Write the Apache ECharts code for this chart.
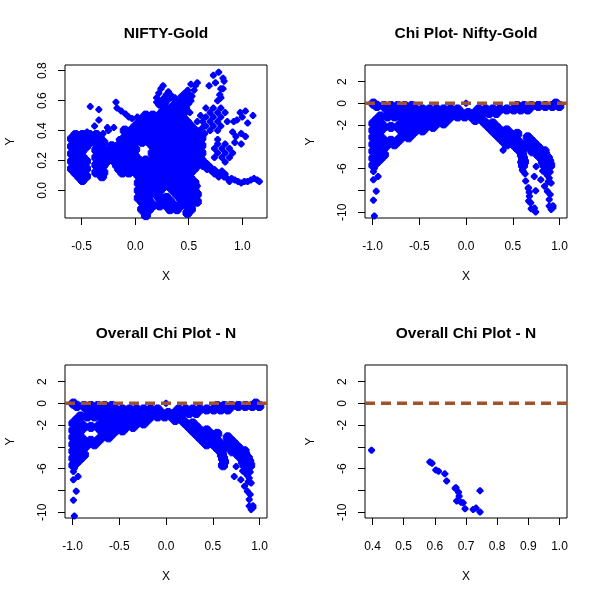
<!DOCTYPE html>
<html>
<head>
<meta charset="utf-8">
<script src="https://cdn.jsdelivr.net/npm/echarts@6/dist/echarts.min.js"></script>
<style>html,body{margin:0;padding:0;background:#fff;}#c{width:600px;height:600px;}</style>
</head>
<body>
<div id="c"></div>
<script>
// ---------------- DATA ----------------
const panelTitles = ['NIFTY-Gold', 'Chi Plot- Nifty-Gold', 'Overall Chi Plot - N', 'Overall Chi Plot - N'];
const p1XTicks = [-0.5, 0, 0.5, 1.0];
const p1YTicks = [0, 0.2, 0.4, 0.6, 0.8];
const chiXTicks = [-1, -0.5, 0, 0.5, 1];
const subXTicks = [0.4, 0.5, 0.6, 0.7, 0.8, 0.9, 1.0];
const chiYTicks = [-10, -8, -6, -4, -2, 0, 2];
const chiYLabels = [-10, -6, -2, 0, 2];
const refLineY = [0, 0];

// NIFTY-Gold, dense parts read row by row: [Y, X1, X2, ...]
const niftyGoldRows = [
 // far-left blob and column
 [0.37, -0.558,-0.493,-0.428,-0.363],
 [0.345, -0.59,-0.525,-0.46,-0.395,-0.33],
 [0.32, -0.558,-0.493,-0.428,-0.363,-0.298],
 [0.295, -0.59,-0.525,-0.46,-0.33],
 [0.27, -0.558,-0.493,-0.363,-0.298],
 [0.245, -0.59,-0.525,-0.33,-0.27],
 [0.22, -0.558,-0.493,-0.363,-0.298],
 [0.195, -0.59,-0.525,-0.46,-0.33,-0.27],
 [0.17, -0.558,-0.493,-0.363,-0.298],
 [0.145, -0.59,-0.525,-0.46,-0.33],
 [0.12, -0.558,-0.493,-0.363,-0.298],
 [0.095, -0.525,-0.46,-0.31],
 [0.07, -0.493],
 // middle-left cluster
 [0.295, -0.22,-0.16],
 [0.27, -0.23,-0.19,-0.13],
 [0.245, -0.22,-0.16],
 [0.22, -0.21,-0.15],
 [0.195, -0.19,-0.13],
 [0.17, -0.17,-0.11],
 [0.145, -0.15,-0.09],
 [0.12, -0.12,-0.06],
 // central blob
 [0.525, 0.26,0.325,0.39,0.455],
 [0.50, 0.098,0.163,0.228,0.293,0.358,0.423],
 [0.475, 0.065,0.13,0.195,0.26,0.325,0.39,0.455],
 [0.45, 0.033,0.098,0.163,0.228,0.293,0.358,0.423,0.488],
 [0.425, 0,0.065,0.13,0.195,0.26,0.325,0.39,0.455,0.52],
 [0.40, -0.098,-0.033,0.033,0.098,0.163,0.228,0.293,0.358,0.423,0.488,0.553],
 [0.375, -0.065,0,0.065,0.13,0.195,0.26,0.325,0.39,0.455,0.52,0.585],
 [0.35, -0.098,-0.033,0.033,0.098,0.163,0.228,0.293,0.358,0.423,0.488,0.553,0.618],
 [0.325, -0.065,0,0.065,0.13,0.195,0.26,0.325,0.39,0.455,0.52,0.585],
 [0.30, -0.098,-0.033,0.163,0.228,0.293,0.358,0.423,0.488,0.553,0.618],
 [0.275, -0.065,0,0.195,0.26,0.325,0.39,0.455,0.52,0.585],
 [0.25, -0.098,-0.033,0.163,0.228,0.293,0.358,0.423,0.488,0.553,0.618],
 [0.225, -0.065,0,0.195,0.26,0.325,0.39,0.455,0.52,0.585],
 [0.20, -0.098,-0.033,0.033,0.098,0.163,0.228,0.293,0.358,0.423,0.488,0.553,0.618],
 [0.175, -0.065,0,0.065,0.13,0.195,0.26,0.325,0.39,0.455,0.52,0.585,0.65],
 [0.15, -0.033,0.033,0.098,0.163,0.228,0.293,0.358,0.423,0.488,0.553],
 [0.125, 0,0.065,0.13,0.195,0.26,0.325,0.39,0.455,0.52],
 [0.10, 0.033,0.098,0.163,0.228,0.293,0.358,0.423,0.488],
 [0.075, 0.065,0.13,0.195,0.26,0.325,0.39,0.455,0.52],
 [0.05, 0.033,0.098,0.163,0.228,0.293,0.358,0.423,0.488,0.553],
 [0.025, 0.065,0.13,0.195,0.26,0.325,0.39,0.455,0.52],
 [0.00, 0.033,0.098,0.163,0.228,0.358,0.423,0.488,0.553],
 [-0.025, 0.065,0.13,0.195,0.39,0.455,0.52,0.575],
 [-0.05, 0.033,0.098,0.228,0.293,0.423,0.488,0.553],
 [-0.075, 0.065,0.13,0.26,0.325,0.455,0.52,0.575],
 [-0.10, 0.098,0.163,0.228,0.293,0.358,0.423,0.488],
 [-0.125, 0.065,0.13,0.325,0.39,0.52],
 [-0.15, 0.098,0.488],
 [-0.165, 0.10]
];

// NIFTY-Gold, sparse parts (X, Y)
const niftyGoldPoints = [
 [-0.42,0.56],[-0.34,0.54],[-0.34,0.47],[-0.38,0.43],[-0.45,0.39],[-0.49,0.38],[-0.30,0.38],
 [-0.25,0.40],[-0.20,0.42],[-0.26,0.42],[-0.15,0.34],[-0.31,0.10],
 [-0.18,0.59],[-0.17,0.55],[-0.13,0.53],[-0.09,0.51],[-0.06,0.49],[-0.03,0.48],[0.02,0.49],[0.08,0.49],[0.14,0.50],[0.19,0.49],
 [0.56,0.00],[0.58,0.03],
 [0.26,0.70],[0.31,0.66],[0.22,0.65],[0.20,0.62],[0.23,0.60],[0.27,0.62],[0.30,0.60],[0.34,0.62],[0.36,0.58],
 [0.33,0.56],[0.38,0.55],[0.40,0.60],[0.43,0.63],[0.46,0.65],[0.48,0.62],[0.50,0.58],[0.45,0.57],[0.42,0.55],
 [0.30,0.55],[0.25,0.56],[0.52,0.71],[0.58,0.72],[0.55,0.67],[0.53,0.63],[0.47,0.60],[0.22,0.57],
 [0.24,0.68],[0.29,0.64],[0.33,0.64],[0.37,0.62],[0.38,0.59],[0.41,0.57],[0.44,0.60],[0.49,0.67],[0.51,0.64],
 [0.52,0.60],[0.56,0.70],[0.20,0.59],[0.25,0.59],[0.28,0.58],[0.35,0.55],[0.48,0.55],[0.51,0.52],
 [0.69,0.70],[0.73,0.77],[0.78,0.79],[0.82,0.75],[0.83,0.73],[0.80,0.68],[0.79,0.64],[0.77,0.60],[0.80,0.62],[0.82,0.68],[0.75,0.72],
 [0.66,0.55],[0.73,0.55],[0.80,0.55],[0.70,0.52],[0.77,0.52],[0.84,0.52],[0.66,0.49],[0.73,0.49],[0.80,0.49],
 [0.63,0.46],[0.70,0.46],[0.77,0.46],[0.86,0.46],[0.66,0.43],[0.73,0.43],[0.80,0.43],[0.70,0.40],[0.77,0.40],
 [0.58,0.46],[0.61,0.50],[0.63,0.42],[0.60,0.40],[0.65,0.38],
 [0.98,0.52],[1.03,0.53],[1.10,0.50],[1.05,0.45],[0.95,0.47],[0.92,0.46],[0.91,0.39],[0.94,0.36],[0.99,0.38],
 [1.03,0.36],[0.99,0.31],[0.93,0.32],[1.00,0.49],
 [0.77,0.34],[0.77,0.31],[0.84,0.31],[0.74,0.28],[0.81,0.28],[0.88,0.28],[0.77,0.25],[0.84,0.25],[0.91,0.25],
 [0.74,0.22],[0.81,0.22],[0.88,0.22],[0.84,0.19],
 [0.60,0.21],[0.64,0.19],[0.67,0.18],[0.70,0.16],[0.63,0.16],[0.67,0.14],[0.71,0.13],[0.74,0.14],[0.77,0.12],
 [0.74,0.11],[0.80,0.11],[0.78,0.09],[0.83,0.09],[0.86,0.08],[0.88,0.06],[0.90,0.08],[0.93,0.07],[0.96,0.06],
 [0.99,0.05],[1.02,0.06],[1.05,0.06],[1.08,0.07],[1.11,0.08],[1.14,0.07],[1.16,0.06],[0.84,0.11],[0.81,0.13]
];

// Overall chi plot, dense parts read row by row: [Y(chi), X1(lambda), X2, ...]
const chiOverallRows = [
 [-0.02, -0.99,0.96],
 [-0.24, -0.953,-0.878,-0.803,-0.728,-0.653,-0.578, 0.548,0.623,0.698,0.773,0.848,0.923,0.998],
 [-0.56, -0.84,-0.765,-0.69,-0.615,-0.54,-0.465,-0.39,-0.315,-0.24,-0.165,-0.09, 0.135,0.21,0.285,0.36,0.435,0.51,0.585,0.66],
 [-0.88, -0.803,-0.728,-0.653,-0.578,-0.503,-0.428,-0.353,-0.278,-0.203,-0.128,-0.053,0.023,0.098,0.173,0.248,0.323],
 [-1.20, -0.915,-0.84,-0.765,-0.69,-0.615,-0.54,-0.465,-0.39,-0.315,-0.24,-0.165,-0.09,-0.015,0.06],
 [-1.52, -0.953,-0.653,-0.578,-0.503,-0.428,-0.353,-0.278,-0.203, 0.098,0.173],
 [-1.84, -0.99,-0.915,-0.69,-0.615,-0.54,-0.465,-0.39,-0.315,-0.24, 0.21,0.285],
 [-2.16, -0.953,-0.878,-0.803,-0.728,-0.653,-0.578,-0.503,-0.428,-0.353, 0.248,0.323],
 [-2.48, -0.99,-0.915,-0.69,-0.615,-0.54,-0.465, 0.285,0.36,0.435],
 [-2.80, -0.953,-0.653,-0.578, 0.323,0.398,0.473,0.548],
 [-3.12, -0.99,-0.915,-0.69,-0.615, 0.36,0.435,0.51,0.66],
 [-3.44, -0.953,-0.878,-0.803,-0.728, 0.398,0.473,0.548,0.698],
 [-3.76, -0.99,-0.915,-0.84,-0.765, 0.435,0.51,0.585,0.66,0.735],
 [-4.08, -0.953,-0.878, 0.548,0.623,0.698,0.773],
 [-4.40, -0.99,-0.915, 0.585,0.71,0.785,0.84],
 [-4.72, -0.953,-0.878, 0.598,0.773,0.848],
 [-5.04, -0.99,-0.915, 0.61,0.81,0.875],
 [-5.36, -0.953, 0.62,0.823,0.89],
 [-5.68, -0.99, 0.61,0.84,0.90]
];

// Overall chi plot, sparse parts (X, Y)
const chiOverallPoints = [
 [0.00,0.00],
 [-0.98,-5.95],[-0.99,-6.26],[-0.94,-6.71],[-0.99,-7.01],[-0.96,-8.07],[-0.99,-8.88],[-0.98,-10.34],
 [0.75,-5.80],[0.86,-6.00],[0.90,-6.30],[0.82,-6.20],[0.85,-6.40],[0.87,-6.60],[0.73,-6.71],[0.89,-6.86],
 [0.80,-7.00],[0.88,-7.20],[0.91,-7.31],[0.84,-7.60],[0.87,-8.07],[0.90,-8.37],[0.89,-8.82],[0.93,-9.40],
 [0.89,-9.43],[0.93,-9.58],[0.91,-9.73]
];

// Subset chi plot points (X, Y)
const chiSubset = [
 [0.397,-4.30],[0.584,-5.38],[0.591,-5.50],[0.603,-6.11],[0.612,-6.23],[0.632,-6.47],[0.638,-7.13],
 [0.665,-7.80],[0.676,-8.16],[0.678,-8.52],[0.670,-8.95],[0.684,-9.07],[0.691,-9.13],[0.697,-9.67],
 [0.723,-9.74],[0.732,-9.61],[0.745,-8.01],[0.745,-9.97],[0.668,-7.75]
];

// reshape rows [y, x1, x2, ...] into [x, y] pairs
const fromRows = rows => rows.flatMap(r => r.slice(1).map(x => [x, r[0]]));
const niftyGoldDense = fromRows(niftyGoldRows);
const chiOverallDense = fromRows(chiOverallRows);

// ---------------- CHART ----------------
const FONT = 'Liberation Sans, Arial, sans-serif';
// filled diamond with blunt tips (like R pch 18); a fuller variant where marks pile up densely
const DIAMOND = 'path://M2.8,0 L4.2,0 L7,2.8 L7,4.2 L4.2,7 L2.8,7 L0,4.2 L0,2.8 Z';
const DIAMOND_DENSE = 'path://M2,0 L5,0 L7,2 L7,5 L5,7 L2,7 L0,5 L0,2 Z';
const grids = [
  {left: 65, top: 65, width: 202, height: 153},
  {left: 365, top: 65, width: 202, height: 153},
  {left: 65, top: 365, width: 202, height: 153},
  {left: 365, top: 365, width: 202, height: 153}
].map(g => Object.assign({show: true, borderColor: '#000', borderWidth: 1, backgroundColor: 'transparent', containLabel: false}, g));

const ranges = [
  {x: [-0.656, 1.231], y: [-0.184, 0.838], xt: p1XTicks, yt: p1YTicks, yl: p1YTicks, yf: v => v.toFixed(1)},
  {x: [-1.08, 1.08], y: [-10.52, 3.52], xt: chiXTicks, yt: chiYTicks, yl: chiYLabels, yf: v => String(v)},
  {x: [-1.08, 1.08], y: [-10.52, 3.52], xt: chiXTicks, yt: chiYTicks, yl: chiYLabels, yf: v => String(v)},
  {x: [0.376, 1.024], y: [-10.52, 3.52], xt: subXTicks, yt: chiYTicks, yl: chiYLabels, yf: v => String(v)}
];

const xAxes = ranges.map((r, i) => ({
  type: 'value', gridIndex: i, min: r.x[0], max: r.x[1], position: 'bottom',
  axisLine: {show: false, onZero: false},
  splitLine: {show: false},
  axisTick: {show: true, inside: false, length: 7, customValues: r.xt, lineStyle: {color: '#000', width: 1}},
  axisLabel: {show: true, customValues: r.xt, formatter: v => Number(v).toFixed(1), color: '#000', fontSize: 12, fontFamily: FONT, margin: 23}
}));
const yAxes = ranges.map((r, i) => ({
  type: 'value', gridIndex: i, min: r.y[0], max: r.y[1], position: 'left',
  axisLine: {show: false, onZero: false},
  splitLine: {show: false},
  axisTick: {show: true, inside: false, length: 7, customValues: r.yt, lineStyle: {color: '#000', width: 1}},
  axisLabel: {show: true, customValues: r.yl, formatter: v => r.yf(Number(v)), rotate: 90, color: '#000', fontSize: 12, fontFamily: FONT, margin: 16}
}));

// [panel index, data, dense?]
const layers = [
  [0, niftyGoldDense, true], [0, niftyGoldPoints, false],
  [1, chiOverallDense, true], [1, chiOverallPoints, false], [1, chiSubset, false],
  [2, chiOverallDense, true], [2, chiOverallPoints, false],
  [3, chiSubset, false]
];
const pointSeries = layers.map(([i, d, dense]) => ({
  type: 'scatter', xAxisIndex: i, yAxisIndex: i, data: d,
  symbol: dense ? DIAMOND_DENSE : DIAMOND, symbolSize: dense ? 9 : 7,
  large: false, progressive: 0,
  itemStyle: dense
    ? {color: '#0000FF', opacity: 1, borderColor: '#0000FF', borderWidth: 1}
    : {color: '#0000FF', opacity: 1, borderWidth: 0},
  z: 2, silent: true
}));
const lineSeries = [1, 2, 3].map(i => ({
  type: 'line', xAxisIndex: i, yAxisIndex: i,
  data: [[ranges[i].x[0], refLineY[0]], [ranges[i].x[1], refLineY[1]]],
  symbol: 'none', silent: true, z: 5,
  lineStyle: {color: '#A0522D', width: 3.5, type: [10, 6]}
}));

const graphics = [];
grids.forEach((g, i) => {
  const cx = g.left + g.width / 2;
  const cy = g.top + g.height / 2;
  graphics.push({type: 'text', x: cx, y: g.top - 31, style: {text: panelTitles[i], font: 'bold 15.5px ' + FONT, fill: '#000', align: 'center', verticalAlign: 'middle'}});
  graphics.push({type: 'text', x: cx, y: g.top + g.height + 59, style: {text: 'X', font: '12px ' + FONT, fill: '#000', align: 'center', verticalAlign: 'middle'}});
  graphics.push({type: 'text', x: g.left - 54, y: cy, rotation: Math.PI / 2, style: {text: 'Y', font: '12px ' + FONT, fill: '#000', align: 'center', verticalAlign: 'middle'}});
});

const chart = echarts.init(document.getElementById('c'), null, {renderer: 'canvas'});
chart.setOption({
  animation: false,
  backgroundColor: '#fff',
  grid: grids,
  xAxis: xAxes,
  yAxis: yAxes,
  series: pointSeries.concat(lineSeries),
  graphic: graphics
});
</script>
</body>
</html>
